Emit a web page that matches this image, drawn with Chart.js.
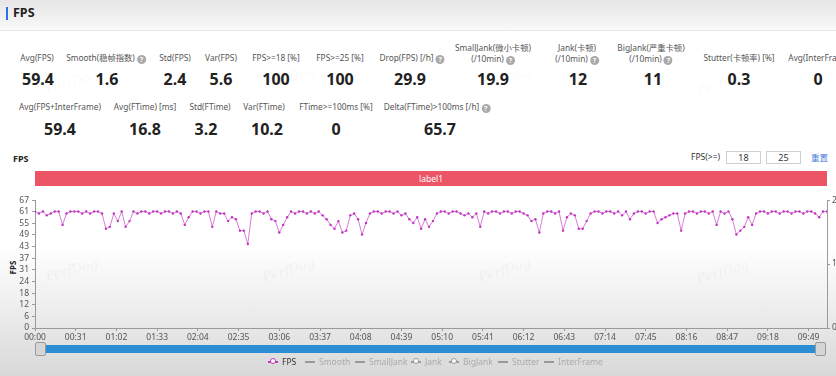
<!DOCTYPE html>
<html>
<head>
<meta charset="utf-8">
<script src="https://cdn.jsdelivr.net/npm/chart.js@4"></script>
<style>
  html, body { margin: 0; padding: 0; }
  body {
    width: 836px; height: 376px; position: relative; overflow: hidden;
    font-family: "Noto Sans", "Noto Sans CJK SC", sans-serif;
    background: linear-gradient(to bottom, #e6e6e6 0px, #f7f7f7 28px, #ffffff 31px, #ffffff 245px, #f0f0f0 300px, #d8d8d8 376px);
  }
  .abs { position: absolute; white-space: nowrap; }
  .c { transform: translateX(-50%); text-align: center; }
  .lbl { font-size: 8.3px; color: #555; line-height: 11px; }
  .val { font-size: 16px; font-weight: bold; color: #222; line-height: 18px; }
  .q { display: inline-block; width: 9px; height: 9px; border-radius: 50%; background: #a9a9a9; color: #fff;
       font-size: 7px; line-height: 9px; text-align: center; font-weight: bold; vertical-align: -1px; margin-left: 2px; }
  .wm { position: absolute; font-family: "DejaVu Serif", serif; font-style: italic; font-size: 13px; color: rgba(0,0,0,0.04);
        transform: rotate(-15deg); white-space: nowrap; }
  .box { position: absolute; border: 1px solid #cfcfcf; background: #fff; font-size: 9px; color: #333;
         text-align: center; line-height: 11px; }
  .lg { position: absolute; top: 356px; font-size: 8.5px; color: #aaa; line-height: 12px; }
  .lgi { position: absolute; top: 361px; height: 2px; width: 10px; background: #999; }
</style>
</head>
<body>
<!-- header -->
<div class="abs" style="left:6px;top:7px;width:2px;height:13px;background:#2f6fe8;"></div>
<div class="abs" style="left:13px;top:4px;font-size:12.5px;font-weight:bold;color:#222;line-height:18px;">FPS</div>
<div class="abs" style="left:0;top:30px;width:836px;height:1px;background:#e8e8e8;"></div>

<div id="stats"></div>

<!-- chart header -->
<div class="abs" style="left:13px;top:152px;font-size:9px;font-weight:bold;color:#222;">FPS</div>
<div class="abs" style="left:691px;top:151px;font-size:8.5px;color:#333;">FPS(&gt;=)</div>
<div class="box" style="left:726px;top:151px;width:33px;height:11px;">18</div>
<div class="box" style="left:766px;top:151px;width:33px;height:11px;">25</div>
<div class="abs" style="left:811px;top:151px;font-size:8.5px;color:#4a7be0;">重置</div>

<div class="abs" style="left:35px;top:171px;width:792px;height:15px;background:#ec5565;color:#fff;font-size:8.5px;line-height:15px;text-align:center;">label1</div>

<div class="abs" style="left:6px;top:262px;font-size:8px;font-weight:bold;color:#222;transform:rotate(-90deg);">FPS</div>

<div style="position:absolute;left:0;top:192px;width:836px;height:152px;">
  <canvas id="fpsChart"></canvas>
</div>

<!-- zoom slider -->
<div class="abs" style="left:44px;top:345px;width:772px;height:8px;background:#2b8dd3;"></div>
<div class="abs" style="left:35px;top:342px;width:9px;height:12px;background:#d6d6d6;border:1px solid #999;border-radius:2px;"></div>
<div class="abs" style="left:815px;top:342px;width:9px;height:12px;background:#d6d6d6;border:1px solid #999;border-radius:2px;"></div>

<div id="legend"></div>

<!-- watermarks -->
<div class="wm" style="left:45px;top:74px;">PerfDog</div>
<div class="wm" style="left:262px;top:70px;">PerfDog</div>
<div class="wm" style="left:478px;top:72px;">PerfDog</div>
<div class="wm" style="left:696px;top:76px;">PerfDog</div>
<div class="wm" style="left:45px;top:262px;">PerfDog</div>
<div class="wm" style="left:262px;top:262px;">PerfDog</div>
<div class="wm" style="left:478px;top:262px;">PerfDog</div>
<div class="wm" style="left:696px;top:264px;">PerfDog</div>

<script>
"use strict";

// --- summary numbers ---
const ROW1_LABELS = ['Avg(FPS)', 'Smooth(稳帧指数)', 'Std(FPS)', 'Var(FPS)', 'FPS>=18 [%]', 'FPS>=25 [%]',
  'Drop(FPS) [/h]', 'SmallJank(微小卡顿)|(/10min)', 'Jank(卡顿)|(/10min)', 'BigJank(严重卡顿)|(/10min)',
  'Stutter(卡顿率) [%]', 'Avg(InterFrame)'];
const ROW1_VALUES = ['59.4', '1.6', '2.4', '5.6', '100', '100', '29.9', '19.9', '12', '11', '0.3', '0'];
const ROW1_HELP = [false, true, false, false, false, false, true, true, true, true, false, false];
const ROW1_X = [37, 106, 175, 221, 276, 340, 412, 493, 577, 651, 739, 820];
const ROW1_VX = [38, 107, 175, 221, 276, 340, 410, 493, 578, 653, 739, 818];

const ROW2_LABELS = ['Avg(FPS+InterFrame)', 'Avg(FTime) [ms]', 'Std(FTime)', 'Var(FTime)', 'FTime>=100ms [%]', 'Delta(FTime)>100ms [/h]'];
const ROW2_VALUES = ['59.4', '16.8', '3.2', '10.2', '0', '65.7'];
const ROW2_HELP = [false, false, false, false, false, true];
const ROW2_X = [60, 145, 210, 264, 336, 437];
const ROW2_VX = [60, 145, 206, 267, 336, 440];

// --- chart data ---
const X_TICK_LABELS = ['00:00', '00:31', '01:02', '01:33', '02:04', '02:35', '03:06', '03:37', '04:08', '04:39',
  '05:10', '05:41', '06:12', '06:43', '07:14', '07:45', '08:16', '08:47', '09:18', '09:49'];
const Y_TICK_LABELS = [0, 6, 12, 18, 24, 31, 37, 43, 49, 55, 61, 67];
const Y_MAX = 67;
const X_MAX_SECONDS = 603;
const SAMPLE_SECONDS = 3;

// FPS, one sample every 3 s
const fpsValues = [
  61, 60, 61, 59, 60, 61, 61, 54, 60, 61,
  61, 61, 60, 61, 60, 61, 61, 60, 52, 53,
  60, 56, 61, 53, 56, 61, 60, 61, 61, 60,
  61, 61, 60, 61, 61, 60, 61, 60, 54, 58,
  61, 61, 60, 61, 61, 53, 61, 60, 60, 56,
  58, 57, 51, 51, 44, 60, 61, 61, 60, 61,
  57, 56, 50, 54, 58, 61, 60, 61, 61, 60,
  61, 60, 61, 59, 57, 54, 52, 56, 50, 51,
  59, 60, 57, 49, 55, 60, 61, 61, 60, 61,
  61, 60, 61, 59, 60, 57, 55, 58, 52, 57,
  53, 56, 60, 61, 61, 60, 61, 61, 60, 59,
  60, 58, 60, 53, 61, 60, 61, 61, 60, 61,
  61, 60, 61, 61, 60, 59, 56, 57, 50, 60,
  61, 61, 60, 61, 51, 58, 60, 59, 52, 52,
  56, 60, 61, 61, 60, 61, 61, 60, 61, 59,
  61, 57, 60, 61, 61, 60, 61, 61, 55, 57,
  58, 59, 60, 60, 51, 60, 61, 61, 60, 61,
  61, 60, 61, 54, 61, 60, 61, 57, 49, 51,
  53, 58, 54, 60, 61, 61, 60, 61, 61, 60,
  61, 61, 60, 61, 61, 60, 61, 61, 60, 58,
  61, 61
];

const LEGEND_ITEMS = ['FPS', 'Smooth', 'SmallJank', 'Jank', 'BigJank', 'Stutter', 'InterFrame'];
const LEGEND_X = [268, 305, 355, 411, 449, 498, 544];

function toSeconds(label) {
  const p = label.split(':');
  return parseInt(p[0], 10) * 60 + parseInt(p[1], 10);
}

function statsHtml(labels, values, help, lx, vx, labelTop, valueTop) {
  let html = '';
  labels.forEach((text, i) => {
    const lines = text.split('|');
    const q = help[i] ? '<span class="q">?</span>' : '';
    let top = labelTop;
    if (lines.length > 1) top = labelTop - 10;
    const inner = lines.map((l, k) => l + (k === lines.length - 1 ? q : '')).join('<br>');
    html += `<div class="abs c lbl" style="left:${lx[i]}px;top:${top}px;">${inner}</div>`;
    html += `<div class="abs c val" style="left:${vx[i]}px;top:${valueTop}px;">${values[i]}</div>`;
  });
  return html;
}

document.getElementById('stats').innerHTML =
  statsHtml(ROW1_LABELS, ROW1_VALUES, ROW1_HELP, ROW1_X, ROW1_VX, 52, 70) +
  statsHtml(ROW2_LABELS, ROW2_VALUES, ROW2_HELP, ROW2_X, ROW2_VX, 101, 120);

// legend (only FPS is active)
let lg = '';
LEGEND_ITEMS.forEach((name, i) => {
  const active = i === 0;
  const col = active ? '#c03ac0' : '#999';
  lg += `<div class="lgi" style="left:${LEGEND_X[i]}px;background:${col};"></div>`;
  if (active || name === 'Jank' || name === 'BigJank') {
    lg += `<div class="abs" style="left:${LEGEND_X[i] + 2}px;top:358px;width:4px;height:4px;border:1px solid ${col};border-radius:50%;background:#fff;"></div>`;
  }
  lg += `<div class="lg" style="left:${LEGEND_X[i] + 14}px;color:${active ? '#333' : '#aaa'};">${name}</div>`;
});
document.getElementById('legend').innerHTML = lg;

const points = fpsValues.map((v, i) => ({ x: i * SAMPLE_SECONDS, y: v }));
const xTickValues = X_TICK_LABELS.map(toSeconds);

const axisColor = '#9a9a9a';
const tickFont = { size: 8.5, family: '"Noto Sans", sans-serif' };

new Chart(document.getElementById('fpsChart'), {
  type: 'line',
  data: {
    datasets: [{
      label: 'FPS',
      data: points,
      borderColor: 'rgba(204, 80, 204, 0.75)',
      borderWidth: 1,
      pointRadius: 1.2,
      pointBackgroundColor: '#c232c2',
      pointBorderWidth: 0,
      tension: 0,
      yAxisID: 'y'
    }]
  },
  options: {
    responsive: true, maintainAspectRatio: false, animation: false,
    layout: { padding: 0 },
    plugins: { legend: { display: false }, tooltip: { enabled: false } },
    scales: {
      x: {
        type: 'linear', min: 0, max: X_MAX_SECONDS,
        afterBuildTicks: (scale) => { scale.ticks = xTickValues.map(v => ({ value: v })); },
        afterFit: (scale) => { scale.height = 16; },
        ticks: {
          autoSkip: false, maxRotation: 0, color: '#555', font: tickFont, padding: 1,
          callback: (v, idx) => X_TICK_LABELS[idx]
        },
        grid: { drawOnChartArea: false, drawTicks: true, tickLength: 3, color: axisColor },
        border: { color: axisColor }
      },
      y: {
        position: 'left', min: 0, max: Y_MAX,
        afterBuildTicks: (scale) => {
          scale.ticks = Y_TICK_LABELS.map((t, i) => ({ value: Y_MAX * i / (Y_TICK_LABELS.length - 1) }));
        },
        afterFit: (scale) => { scale.width = 35; },
        ticks: { autoSkip: false, color: '#555', font: tickFont, padding: 3, callback: (v, idx) => Y_TICK_LABELS[idx] },
        grid: { drawOnChartArea: false, drawTicks: true, tickLength: 3, color: axisColor },
        border: { color: axisColor }
      },
      y1: {
        position: 'right', min: 0, max: 2,
        afterFit: (scale) => { scale.width = 9; },
        ticks: { stepSize: 1, autoSkip: false, color: '#555', font: tickFont, padding: 2 },
        grid: { drawOnChartArea: false, drawTicks: true, tickLength: 3, color: axisColor },
        border: { color: axisColor }
      }
    }
  }
});
</script>
</body>
</html>
